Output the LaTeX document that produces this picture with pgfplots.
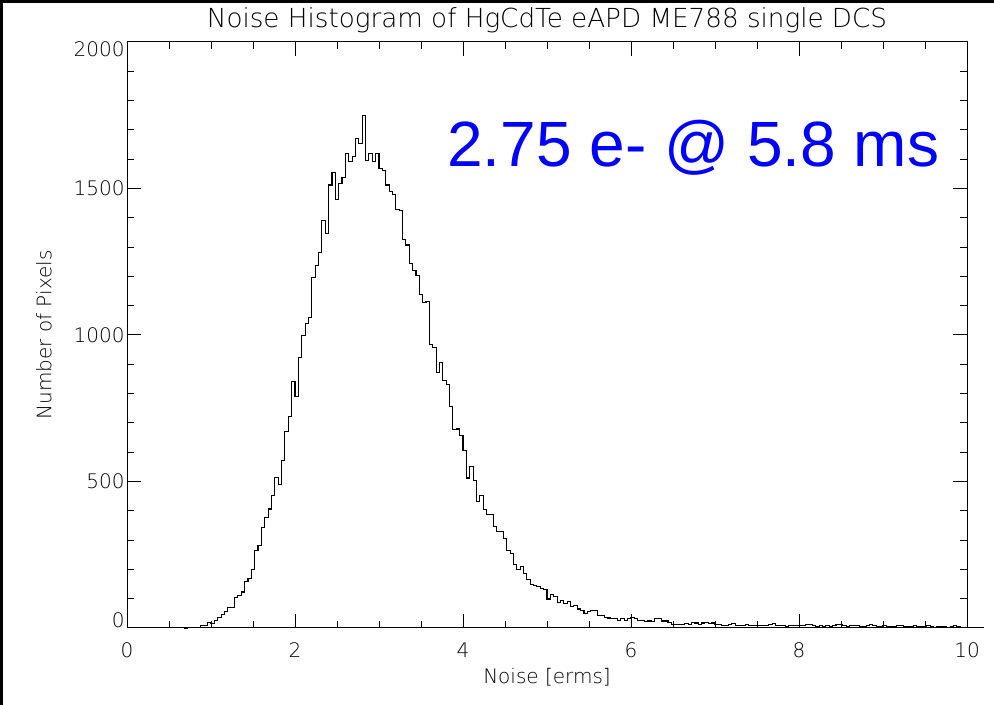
\documentclass[border=0pt]{standalone}
\usepackage{fontspec}
\setmainfont{DejaVu Sans ExtraLight}
\newfontfamily\arialfont{Liberation Sans}
\usepackage{pgfplots}
\pgfplotsset{compat=1.18}
\begin{document}
\begin{tikzpicture}
\begin{axis}[
  at={(63.5pt,38.5pt)}, anchor=south west,
  scale only axis, width=420pt, height=293pt,
  xmin=0, xmax=10, ymin=0, ymax=2000,
  xtick={0,2,4,6,8,10}, ytick={0,500,1000,1500,2000},
  yticklabels={\raisebox{3.6pt}{0},500,1000,1500,\raisebox{-3.6pt}{2000}},
  minor x tick num=3, minor y tick num=4,
  tick align=inside, tick pos=both,
  major tick length=7pt, minor tick length=3.5pt,
  axis line style={line width=0.5pt},
  every tick/.style={black, line width=0.5pt},
  /pgf/number format/assume math mode=true,
  scaled y ticks=false,
  yticklabel style={anchor=base east, yshift=-3.6pt, xshift=-1pt, inner sep=0pt, font=\fontsize{10}{12}\selectfont},
  xticklabel style={anchor=base, yshift=-15pt, inner sep=0pt, font=\fontsize{10}{12}\selectfont},
  clip=false,
]
\addplot[const plot, black, line width=0.55pt] table {
x y
0.68 0
0.72 2
0.76 2
0.80 3
0.84 2
0.88 10
0.92 10
0.96 19
1.00 15
1.04 25
1.08 37
1.12 45
1.16 55
1.20 70
1.24 70
1.28 103
1.32 110
1.36 123
1.40 160
1.44 170
1.48 200
1.52 266
1.56 283
1.60 344
1.64 376
1.68 406
1.72 452
1.76 514
1.80 490
1.84 573
1.88 670
1.92 723
1.96 841
2.00 791
2.04 924
2.08 998
2.12 1040
2.16 1059
2.20 1196
2.24 1237
2.28 1281
2.32 1392
2.36 1347
2.40 1512
2.44 1554
2.48 1461
2.52 1518
2.56 1538
2.60 1618
2.64 1592
2.68 1609
2.72 1671
2.76 1654
2.80 1748
2.84 1597
2.88 1618
2.92 1592
2.96 1618
3.00 1567
3.04 1560
3.08 1512
3.12 1491
3.16 1478
3.20 1427
3.24 1425
3.28 1327
3.32 1307
3.36 1245
3.40 1221
3.44 1202
3.48 1137
3.52 1111
3.56 1113
3.60 968
3.64 956
3.68 871
3.72 905
3.76 846
3.80 832
3.84 755
3.88 676
3.92 679
3.96 657
4.00 605
4.04 512
4.08 552
4.12 502
4.16 431
4.20 452
4.24 403
4.28 386
4.32 386
4.36 346
4.40 329
4.44 330
4.48 304
4.52 264
4.56 253
4.60 217
4.64 200
4.68 209
4.72 187
4.76 167
4.80 149
4.84 144
4.88 141
4.92 135
4.96 130
5.00 99
5.04 113
5.08 107
5.12 88
5.16 93
5.20 84
5.24 91
5.28 73
5.32 78
5.36 65
5.40 61
5.44 50
5.48 56
5.52 59
5.56 59
5.60 44
5.64 44
5.68 36
5.72 34
5.76 31
5.80 32
5.84 27
5.88 31
5.92 27
5.96 33
6.00 36
6.04 31
6.08 25
6.12 25
6.16 22
6.20 24
6.24 22
6.28 33
6.32 31
6.36 24
6.40 24
6.44 20
6.48 13
6.52 11
6.56 11
6.60 13
6.64 15
6.68 11
6.72 20
6.76 17
6.80 13
6.84 17
6.88 20
6.92 15
6.96 17
7.00 13
7.04 12
7.08 10
7.12 9
7.16 11
7.20 14
7.24 10
7.28 8
7.32 9
7.36 12
7.40 9
7.44 8
7.48 10
7.52 9
7.56 7
7.60 8
7.64 13
7.68 15
7.72 10
7.76 7
7.80 8
7.84 6
7.88 9
7.92 7
7.96 8
8.00 10
8.04 8
8.08 11
8.12 12
8.16 8
8.20 6
8.24 7
8.28 5
8.32 8
8.36 6
8.40 9
8.44 12
8.48 11
8.52 7
8.56 6
8.60 8
8.64 10
8.68 7
8.72 5
8.76 6
8.80 9
8.84 11
8.88 8
8.92 6
8.96 5
9.00 7
9.04 5
9.08 4
9.12 6
9.16 8
9.20 9
9.24 6
9.28 4
9.32 5
9.36 7
9.40 5
9.44 4
9.48 6
9.52 8
9.56 5
9.60 3
9.64 4
9.68 5
9.72 4
9.76 3
9.80 6
9.84 7
9.88 4
9.92 3
9.96 3
10.00 3
10.04 3
10.08 3
10.12 3
10.16 3
10.20 3
};
\end{axis}
\pgfresetboundingbox
\useasboundingbox (0,0) rectangle (497pt,352.5pt);
\fill[black] (0,351pt) rectangle (497pt,352.5pt);
\fill[black] (0,0) rectangle (1.5pt,352.5pt);
\node[anchor=base, inner sep=0pt, font=\fontsize{13.1}{15}\selectfont] at (273.5pt,338.5pt) {Noise Histogram of HgCdTe eAPD ME788 single DCS};
\node[anchor=base, inner sep=0pt, font=\fontsize{10}{12}\selectfont] at (273.5pt,10.5pt) {Noise [erms]};
\node[rotate=90, anchor=center, inner sep=0pt, font=\fontsize{10}{12}\selectfont] at (22pt,185pt) {Number of Pixels};
\node[anchor=base west, inner sep=0pt, text=blue, font=\arialfont\fontsize{32}{38}\selectfont] at (223.5pt,269pt) {2.75 e- @ 5.8 ms};
\end{tikzpicture}
\end{document}
